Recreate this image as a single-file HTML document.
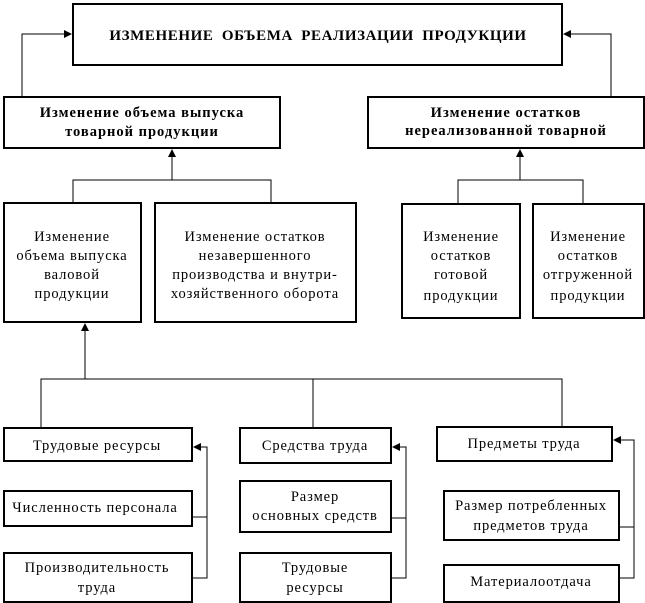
<!DOCTYPE html>
<html><head><meta charset="utf-8"><style>
html,body{margin:0;padding:0;background:#fff}
svg{display:block}
text{font-family:"Liberation Serif",serif;font-size:14.5px;fill:#000;letter-spacing:0.9px}
.b{font-weight:bold;letter-spacing:1px}
.t{font-weight:bold;font-size:15px;letter-spacing:0.6px;word-spacing:4px}
</style></head><body>
<svg width="645" height="603" viewBox="0 0 645 603" xmlns="http://www.w3.org/2000/svg">
<defs><marker id="a" markerWidth="8" markerHeight="8" refX="7" refY="4" orient="auto" markerUnits="userSpaceOnUse"><path d="M0,0 L8,4 L0,8 z" fill="#000"/></marker></defs>
<g fill="none" stroke="#000" stroke-width="2">
<rect x="73" y="4" width="489" height="61"/>
<rect x="4" y="97" width="276" height="51"/>
<rect x="368" y="97" width="276" height="51"/>
<rect x="4" y="203" width="137" height="119"/>
<rect x="155" y="203" width="201" height="119"/>
<rect x="402" y="204" width="118" height="114"/>
<rect x="533" y="204" width="111" height="114"/>
<rect x="4" y="428" width="188" height="33"/>
<rect x="4" y="491" width="188" height="35"/>
<rect x="4" y="553" width="188" height="49"/>
<rect x="240" y="428" width="151" height="35"/>
<rect x="240" y="481" width="151" height="51"/>
<rect x="240" y="553" width="151" height="49"/>
<rect x="437" y="427" width="175" height="34"/>
<rect x="444" y="491" width="175" height="49"/>
<rect x="444" y="565" width="175" height="37"/>
</g>
<g fill="none" stroke="#000" stroke-width="1">
<polyline points="22,97 22,34 71,34" marker-end="url(#a)"/>
<polyline points="611,97 611,34 564,34" marker-end="url(#a)"/>
<line x1="172" y1="180" x2="172" y2="150" marker-end="url(#a)"/>
<polyline points="73,203 73,180 271,180 271,203"/>
<line x1="520" y1="180" x2="520" y2="150" marker-end="url(#a)"/>
<polyline points="458,204 458,180 583,180 583,204"/>
<line x1="85" y1="379" x2="85" y2="324" marker-end="url(#a)"/>
<polyline points="41,428 41,379 562,379 562,427"/>
<line x1="313" y1="379" x2="313" y2="428"/>
<polyline points="192,517 207,517 207,447 194,447" marker-end="url(#a)"/>
<polyline points="192,578 207,578 207,517"/>
<polyline points="391,518 406,518 406,447 393,447" marker-end="url(#a)"/>
<polyline points="391,578 406,578 406,518"/>
<polyline points="619,527 634,527 634,440 614,440" marker-end="url(#a)"/>
<polyline points="619,578 634,578 634,527"/>
</g>
<g text-anchor="middle">
<text x="318" y="40" class="t">ИЗМЕНЕНИЕ  ОБЪЕМА РЕАЛИЗАЦИИ  ПРОДУКЦИИ</text>
<text x="142" y="117" class="b">Изменение объема выпуска</text>
<text x="142" y="136" class="b">товарной продукции</text>
<text x="506" y="117" class="b">Изменение остатков</text>
<text x="506" y="135" class="b">нереализованной товарной</text>
<text x="72" y="241">Изменение</text>
<text x="72" y="260">объема выпуска</text>
<text x="72" y="279">валовой</text>
<text x="72" y="298">продукции</text>
<text x="255" y="241">Изменение остатков</text>
<text x="255" y="260">незавершенного</text>
<text x="255" y="279">производства и внутри-</text>
<text x="255" y="298">хозяйственного оборота</text>
<text x="461" y="241">Изменение</text>
<text x="461" y="260">остатков</text>
<text x="461" y="279">готовой</text>
<text x="461" y="300">продукции</text>
<text x="588" y="241">Изменение</text>
<text x="588" y="260">остатков</text>
<text x="588" y="279">отгруженной</text>
<text x="588" y="300">продукции</text>
<text x="97" y="450">Трудовые ресурсы</text>
<text x="95" y="512">Численность  персонала</text>
<text x="97" y="572">Производительность</text>
<text x="97" y="592">труда</text>
<text x="315" y="450">Средства труда</text>
<text x="315" y="501">Размер</text>
<text x="315" y="520">основных средств</text>
<text x="315" y="572">Трудовые</text>
<text x="315" y="592">ресурсы</text>
<text x="524" y="448">Предметы труда</text>
<text x="531" y="510">Размер потребленных</text>
<text x="531" y="530">предметов труда</text>
<text x="531" y="586">Материалоотдача</text>
</g>
</svg>
</body></html>
